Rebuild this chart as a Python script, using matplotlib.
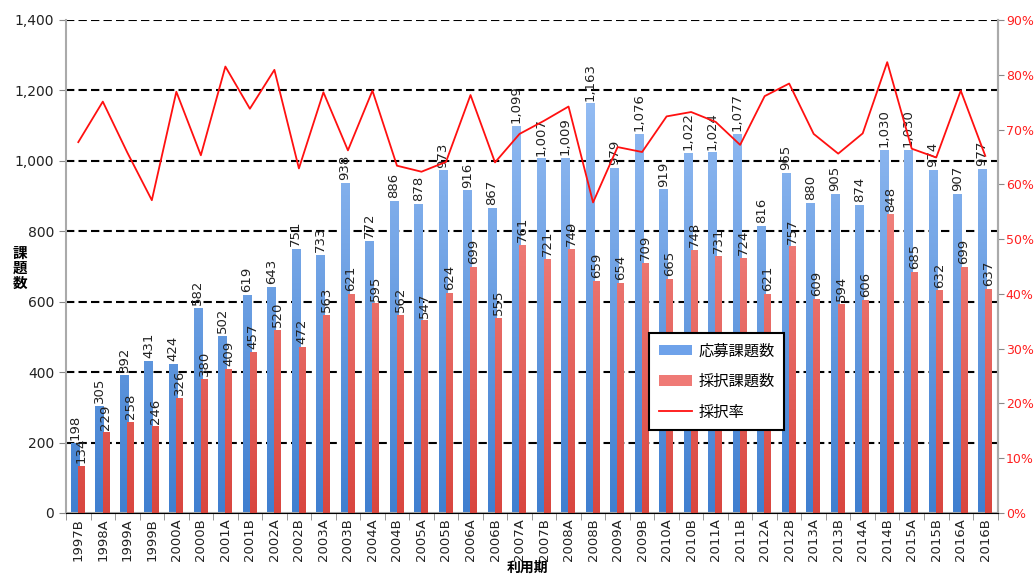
import numpy as np
import matplotlib
matplotlib.use("Agg")
import matplotlib.pyplot as plt
from matplotlib.patches import Patch
from matplotlib.lines import Line2D
from matplotlib.colors import LinearSegmentedColormap
from matplotlib.ticker import FuncFormatter

plt.rcParams['font.family'] = ['DejaVu Sans', 'Noto Sans CJK JP']

periods = ['1997B', '1998A', '1999A', '1999B', '2000A', '2000B', '2001A', '2001B',
           '2002A', '2002B', '2003A', '2003B', '2004A', '2004B', '2005A', '2005B',
           '2006A', '2006B', '2007A', '2007B', '2008A', '2008B', '2009A', '2009B',
           '2010A', '2010B', '2011A', '2011B', '2012A', '2012B', '2013A', '2013B',
           '2014A', '2014B', '2015A', '2015B', '2016A', '2016B']
applied = [198, 305, 392, 431, 424, 582, 502, 619, 643, 751, 733, 938, 772, 886,
           878, 973, 916, 867, 1099, 1007, 1009, 1163, 979, 1076, 919, 1022, 1024,
           1077, 816, 965, 880, 905, 874, 1030, 1030, 974, 907, 977]
accepted = [134, 229, 258, 246, 326, 380, 409, 457, 520, 472, 563, 621, 595, 562,
            547, 624, 699, 555, 761, 721, 749, 659, 654, 709, 665, 748, 731, 724,
            621, 757, 609, 594, 606, 848, 685, 632, 699, 637]
# 採択率 (%)
rate = [67.7, 75.1, 65.8, 57.1, 76.9, 65.3, 81.5, 73.8, 80.9, 62.9, 76.8, 66.2,
        77.1, 63.4, 62.3, 64.1, 76.3, 64.0, 69.2, 71.6, 74.2, 56.7, 66.8, 65.9,
        72.4, 73.2, 71.4, 67.2, 76.1, 78.4, 69.2, 65.6, 69.3, 82.3, 66.5, 64.9,
        77.1, 65.2]

blue_cmap = LinearSegmentedColormap.from_list('b', ['#3f7fd0', '#a4c8fa'])
red_cmap = LinearSegmentedColormap.from_list('r', ['#d9463f', '#ffa6a3'])


def gradient_bars(ax, bars, cmap):
    grad = np.linspace(0, 1, 256).reshape(-1, 1)
    for b in bars:
        x0, y0 = b.get_x(), b.get_y()
        w = b.get_width()
        im = ax.imshow(grad, cmap=cmap, origin='lower', aspect='auto',
                       extent=[x0, x0 + w, y0, y0 + 1400], zorder=b.get_zorder())
        im.set_clip_path(b)


fig = plt.figure(figsize=(10.35, 5.76), dpi=100)
ax = fig.add_axes([0.0638, 0.1094, 0.9, 0.8559])
x = np.arange(len(periods))

b1 = ax.bar(x - 0.13, applied, width=0.34, color='#7aa9ec', zorder=2)
b2 = ax.bar(x + 0.13, accepted, width=0.28, color='#f08a86', zorder=3)
gradient_bars(ax, b1, blue_cmap)
gradient_bars(ax, b2, red_cmap)
ax.set_xlim(-0.5, len(periods) - 0.5)
ax.set_ylim(0, 1400)

for yv in range(200, 1401, 200):
    ax.axhline(yv, color='black', lw=1.5, ls=(0, (4, 2)), zorder=1)

for xi, v in zip(x, applied):
    ax.text(xi - 0.13, v + 8, f'{v:,}', rotation=90, ha='center', va='bottom',
            fontsize=9.5, color='#222222', zorder=5)
for xi, v in zip(x, accepted):
    ax.text(xi + 0.13, v + 8, f'{v:,}', rotation=90, ha='center', va='bottom',
            fontsize=9.5, color='#222222', zorder=5)

ax.set_yticks(range(0, 1401, 200))
ax.yaxis.set_major_formatter(FuncFormatter(lambda v, p: f'{int(v):,}'))
ax.set_xticks(x)
ax.set_xticklabels(periods, rotation=90, fontsize=9.5)
ax.tick_params(axis='y', labelsize=10, colors='#888888', labelcolor='#222222',
               direction='out', length=5)
ax.set_xticks(np.arange(len(periods) + 1) - 0.5, minor=True)
ax.tick_params(axis='x', which='major', length=0, labelcolor='#222222')
ax.tick_params(axis='x', which='minor', length=5, colors='#888888')
ax.spines['top'].set_visible(False)
for s in ['left', 'bottom', 'right']:
    ax.spines[s].set_color('#aaaaaa')
    ax.spines[s].set_linewidth(1.5)

ax2 = ax.twinx()
ax2.plot(x, rate, color='#ff1010', lw=1.3, zorder=6)
ax2.set_ylim(0, 90)
ax2.set_yticks(range(0, 91, 10))
ax2.yaxis.set_major_formatter(FuncFormatter(lambda v, p: f'{int(v)}%'))
ax2.tick_params(axis='y', labelsize=9, colors='#888888', labelcolor='#ff2020',
                direction='out', length=4, pad=2)
ax2.spines['top'].set_visible(False)
ax2.spines['right'].set_color('#aaaaaa')
ax2.spines['right'].set_linewidth(1.5)
ax2.spines['left'].set_visible(False)

handles = [Patch(facecolor='#6fa2ea'), Patch(facecolor='#ef7a76'),
           Line2D([], [], color='#ff1010', lw=1.3)]
leg = fig.legend(handles, ['応募課題数', '採択課題数', '採択率'],
                 loc='upper left', bbox_to_anchor=(0.620, 0.435),
                 frameon=True, fancybox=False, framealpha=1, borderpad=0.6,
                 labelspacing=0.9, handlelength=2.2, handleheight=0.7,
                 handletextpad=0.4,
                 prop={'family': ['Noto Sans CJK JP'], 'size': 11})
leg.get_frame().set_edgecolor('black')
leg.get_frame().set_linewidth(1.5)
leg.set_zorder(10)

fig.text(0.019, 0.535, '課\n題\n数', fontsize=10.5, fontweight='bold',
         family=['Noto Sans CJK JP'], ha='center', va='center', linespacing=0.95)
fig.text(0.51, 0.003, '利用期', fontsize=10, fontweight='bold',
         family=['Noto Sans CJK JP'], ha='center', va='bottom')

fig.savefig('out.png', dpi=100)
